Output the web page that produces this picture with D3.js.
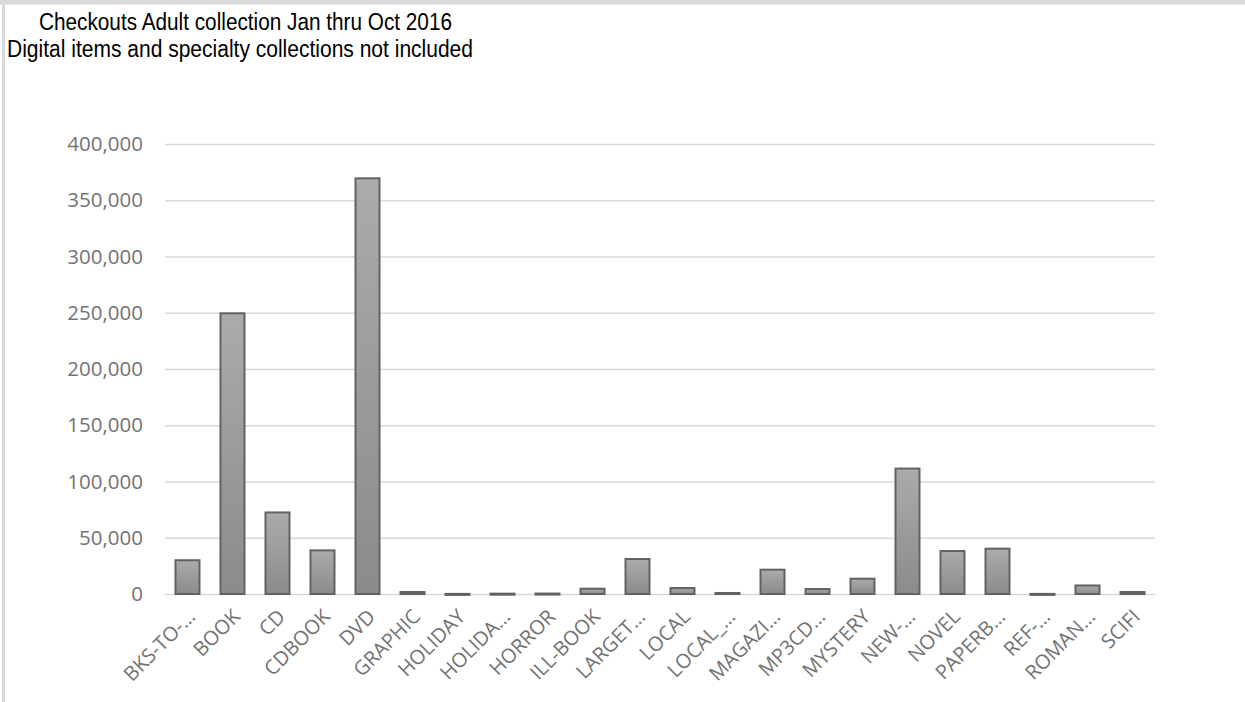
<!DOCTYPE html>
<html>
<head>
<meta charset="utf-8">
<script src="https://cdn.jsdelivr.net/npm/d3@7"></script>
<style>
  body { margin: 0; background: #fff; }
</style>
</head>
<body>
<div id="chart"></div>
<script>
document.addEventListener("DOMContentLoaded", () => {

const width = 1245;
const height = 702;
const marginTop = 144;
const marginRight = 90;
const marginBottom = 108;
const marginLeft = 165;

// collection codes as shown (Excel truncated the long ones)
const categories = ["BKS-TO-…", "BOOK", "CD", "CDBOOK", "DVD", "GRAPHIC", "HOLIDAY", "HOLIDA…",
    "HORROR", "ILL-BOOK", "LARGET…", "LOCAL", "LOCAL_…", "MAGAZI…", "MP3CD…", "MYSTERY",
    "NEW-…", "NOVEL", "PAPERB…", "REF-…", "ROMAN…", "SCIFI"];
const checkouts = [30000, 249500, 72500, 38800, 369500, 1800, 100, 300,
    400, 4700, 31100, 5300, 900, 21600, 4400, 13600,
    111500, 38200, 40300, 100, 7600, 1800];
const yTicks = [0, 50000, 100000, 150000, 200000, 250000, 300000, 350000, 400000];
const titleLines = ["Checkouts Adult collection Jan thru Oct 2016",
    "Digital items and specialty collections not included"];

const data = categories.map((c, i) => ({name: c, value: checkouts[i]}));

const x = d3.scaleBand()
    .domain(categories)
    .range([marginLeft, width - marginRight])
    .paddingInner(0.4667)
    .paddingOuter(0.2333);

const y = d3.scaleLinear()
    .domain([0, 400000])
    .range([height - marginBottom, marginTop]);

const svg = d3.create("svg")
    .attr("width", width)
    .attr("height", height)
    .style("display", "block")

const defs = svg.append("defs");
const grad = defs.append("linearGradient")
    .attr("id", "barGrad")
    .attr("x1", 0).attr("y1", 0)
    .attr("x2", 0).attr("y2", 1);
grad.append("stop").attr("offset", "0%").attr("stop-color", "#ababab");
grad.append("stop").attr("offset", "100%").attr("stop-color", "#8b8b8b");

// chart border leftovers (top + left edge)
svg.append("rect")
    .attr("x", 0).attr("y", 0)
    .attr("width", width).attr("height", 4.5)
    .attr("fill", "#d9d9d9");
svg.append("rect")
    .attr("x", 2).attr("y", 0)
    .attr("width", 3).attr("height", height)
    .attr("fill", "#dadada");

// title
svg.append("g")
    .selectAll("text")
    .data(titleLines)
    .join("text")
    .attr("x", (d, i) => i === 0 ? 245.5 : 240)
    .attr("y", (d, i) => 30 + i * 27)
    .attr("text-anchor", "middle")
    .attr("font-family", "Liberation Sans, Arial, sans-serif")
    .attr("font-size", 23.5)
    .attr("fill", "#000")
    .attr("textLength", (d, i) => i === 0 ? 413 : 466)
    .attr("lengthAdjust", "spacingAndGlyphs")
    .text(d => d);

// gridlines + y labels
const yAxis = svg.append("g")
    .attr("transform", `translate(${marginLeft}, 0)`)
    .call(d3.axisLeft(y)
        .tickValues(yTicks)
        .tickFormat(d3.format(","))
        .tickSize(-(width - marginLeft - marginRight))
        .tickPadding(22));
yAxis.select(".domain").remove();
yAxis.selectAll(".tick line")
    .attr("stroke", "#d9d9d9")
    .attr("stroke-width", 1.6);
yAxis.selectAll(".tick text")
    .attr("fill", "#737373")
    .attr("font-family", "Open Sans, sans-serif")
    .attr("font-size", 20.5);

// bars
svg.append("g")
    .selectAll("rect")
    .data(data)
    .join("rect")
    .attr("x", d => x(d.name))
    .attr("y", d => y(Math.max(0, d.value)))
    .attr("width", x.bandwidth())
    .attr("height", d => Math.max(1, Math.abs(y(d.value) - y(0))))
    .attr("fill", "url(#barGrad)")
    .attr("stroke", "#626262")
    .attr("stroke-width", 2);

// x labels, rotated
svg.append("g")
    .selectAll("text")
    .data(categories)
    .join("text")
    .attr("transform", d => `translate(${x(d) + x.bandwidth() / 2 + 4}, ${y(0) + 19}) rotate(-45)`)
    .attr("text-anchor", "end")
    .attr("dy", "0.35em")
    .attr("fill", "#737373")
    .attr("font-family", "Open Sans, sans-serif")
    .attr("font-size", 20)
    .text(d => d);

document.getElementById("chart").append(svg.node());

})
</script>
</body>
</html>
